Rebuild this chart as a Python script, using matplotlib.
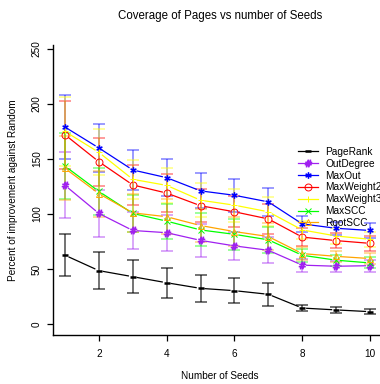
import numpy as np
import matplotlib
matplotlib.use('Agg')
import matplotlib.pyplot as plt

plt.rcParams['font.family'] = ['Liberation Sans', 'DejaVu Sans']

# Datos (x = numero de semillas)
seeds = [1, 2, 3, 4, 5, 6, 7, 8, 9, 10]

pagerank = [62.5, 48.5, 43, 37.5, 32.4, 30.3, 27, 14.5, 12.8, 11.2]
pagerank_err = [19, 16.5, 15, 13.8, 12.2, 11.3, 10.6, 3, 2.5, 2.3]

outdegree = [126, 100.5, 85, 83, 76, 71, 67, 53.5, 52.5, 53]
outdegree_err = [30, 21, 17, 16.5, 15, 13, 12, 6, 5, 5.5]

maxout = [179, 160, 140, 133, 121, 117, 111, 91, 87, 85]
maxout_err = [29, 22, 18, 17, 16, 15, 13, 7.5, 6, 7]

maxweight2 = [172, 147.5, 126.4, 119, 107.5, 102, 95.5, 79, 75.8, 73.3]
maxweight2_err = [31, 22, 18, 17, 15, 14, 14, 8, 7, 7]

maxweight3 = [175, 156, 131.5, 126, 112.5, 108, 102, 85.5, 80, 77]
maxweight3_err = [31, 21, 18, 16, 15.5, 15, 13, 8, 7, 7]

maxscc = [143.5, 120.5, 100.5, 93.5, 85.5, 81.5, 76.5, 62.5, 58, 55.5]
maxscc_err = [30, 21, 17, 16, 15, 14, 12, 6, 5, 5]

rootscc = [141.5, 118.5, 101, 97.5, 89.5, 84, 79.5, 64, 61.5, 59.5]
rootscc_err = [29, 21, 17, 16, 15, 13, 12, 6, 5, 5]

series = [
    ('PageRank', pagerank, pagerank_err, 'black', '_'),
    ('OutDegree', outdegree, outdegree_err, '#A020F0', r'$\#$'),
    ('MaxOut', maxout, maxout_err, '#0000FF', r'$*$'),
    ('MaxWeight2', maxweight2, maxweight2_err, '#FF0000', 'o'),
    ('MaxWeight3', maxweight3, maxweight3_err, '#FFFF00', '+'),
    ('MaxSCC', maxscc, maxscc_err, '#00FF00', 'x'),
    ('RootSCC', rootscc, rootscc_err, '#FFA500', '^'),
]

fig = plt.figure(figsize=(3.8, 3.84), dpi=100)
ax = fig.add_axes([53/380, 49/384, 327/380, 290/384])
ax.set_xlim(0.646, 10.295)
ax.set_ylim(-10, 253.6)

GAP = 4.5  # pixeles de hueco entre punto y linea (estilo type="b")


def linea_con_huecos(x, y, color):
    pts = ax.transData.transform(np.column_stack([x, y]))
    inv = ax.transData.inverted()
    for p0, p1 in zip(pts[:-1], pts[1:]):
        d = p1 - p0
        n = np.hypot(*d)
        if n <= 2 * GAP:
            continue
        u = d / n
        a = inv.transform(p0 + u * GAP)
        b = inv.transform(p1 - u * GAP)
        ax.plot([a[0], b[0]], [a[1], b[1]], color=color, lw=0.9, zorder=3)


for nombre, vals, err, color, marker in series:
    alpha = 0.7 if color == 'black' else 0.5
    ax.errorbar(seeds, vals, yerr=err, fmt='none', ecolor=color, elinewidth=1.1,
                capsize=4.3, capthick=1.1, alpha=alpha, zorder=2)
    linea_con_huecos(seeds, vals, color)
    mfc = 'none' if marker in ('o', '^') else color
    ms = {'_': 5, r'$\#$': 5, r'$*$': 4, 'o': 5, '^': 5, '+': 5, 'x': 4.5}[marker]
    mew = 1.8 if marker == '_' else 0.7
    ax.plot(seeds, vals, linestyle='none', marker=marker, color=color, mfc=mfc,
            ms=ms, mew=mew, zorder=4)
    # entrada de leyenda (linea + marcador)
    ax.plot([], [], color=color, lw=0.9, marker=marker, mfc=mfc, ms=ms, mew=mew,
            label=nombre)

for s in ['top', 'right']:
    ax.spines[s].set_visible(False)
ax.spines['left'].set_linewidth(1.0)
ax.spines['bottom'].set_linewidth(1.0)

ax.set_xticks([2, 4, 6, 8, 10])
ax.set_yticks([0, 50, 100, 150, 200, 250])
ax.tick_params(axis='both', direction='out', length=4, width=0.9, labelsize=7.2)
ax.tick_params(axis='x', pad=6)
ax.tick_params(axis='y', pad=4)
for lab in ax.get_yticklabels():
    lab.set_rotation(90)
    lab.set_va('center')

ax.set_xlabel('Number of Seeds', fontsize=7.2)
ax.xaxis.set_label_coords((220 - 53) / 327, (335 - 371) / 290)
ax.set_ylabel('Percent of improvement against Random', fontsize=7.2)
ax.yaxis.set_label_coords((18 - 53) / 327, (335 - 190) / 290)

fig.text(220/380, 1 - 16/384, 'Coverage of Pages vs number of Seeds',
         ha='center', va='center', fontsize=8.3)

ax.legend(loc='upper left', bbox_to_anchor=(298/380, 1 - 147/384),
          bbox_transform=fig.transFigure, frameon=False, fontsize=7.3,
          handlelength=2.0, handletextpad=0.7, labelspacing=0.18,
          borderpad=0, borderaxespad=0)

fig.savefig('out.png', dpi=100)
